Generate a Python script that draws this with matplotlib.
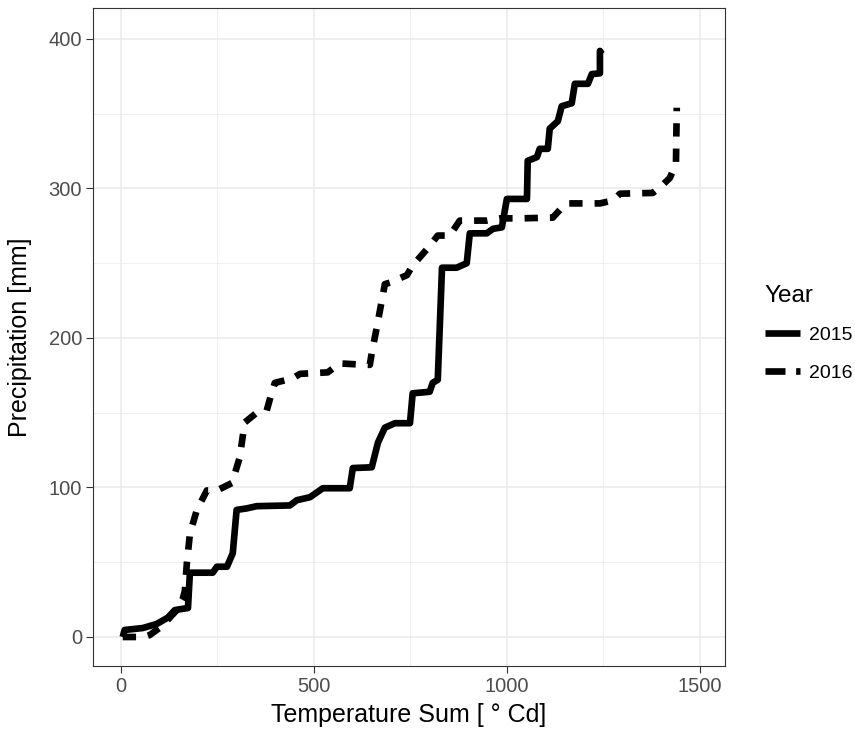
import matplotlib
matplotlib.use("Agg")
import matplotlib.pyplot as plt
from matplotlib.lines import Line2D
import numpy as np

plt.rcParams['font.family'] = ['Liberation Sans', 'DejaVu Sans']

# 2015 series
x2015 = [5, 10, 57, 93, 122, 140, 174, 179, 238, 249, 275, 290, 300, 326, 352, 438, 456, 490,
         515, 523, 593, 601, 650, 666, 684, 710, 749, 756, 800, 808, 821, 832, 870, 896, 904,
         948, 964, 987, 1000, 1052, 1054, 1078, 1085, 1106, 1111, 1132, 1142, 1168, 1176,
         1210, 1220, 1241, 1241, 1246]
y2015 = [0, 4.7, 6, 8.7, 13, 18, 19.4, 43, 43, 47, 47, 56, 85, 86, 87.5, 88, 91.5, 93.5,
         98, 99.5, 99.5, 113, 113.5, 130, 140, 143, 143, 163, 164, 170, 172, 247, 247, 250, 270,
         270, 273, 274, 293, 293, 318.5, 321, 326.5, 326.5, 340, 345, 355, 357, 370,
         370, 376.5, 377, 392, 390]

# 2016 series
x2016 = [5, 60, 75, 93, 106, 127, 145, 160, 166, 171, 179, 197, 223, 249, 288, 308, 321, 352,
         378, 391, 399, 446, 464, 536, 567, 601, 645, 650, 663, 684, 697, 741, 756, 795, 821,
         852, 878, 948, 982, 1034, 1119, 1142, 1155, 1241, 1275, 1293, 1378, 1402, 1422,
         1438, 1440]
y2016 = [0, 0, 1.3, 4.7, 7, 13, 18, 25, 31, 49, 69, 85, 98, 98, 103, 120, 143.5, 150,
         151.5, 163.6, 170, 173, 176, 177, 183, 182.5, 182, 190, 207, 236, 237, 242, 248.5, 260, 268.5,
         268.5, 278.5, 278.5, 280, 280, 280.5, 287, 290, 290, 292, 296.5, 297, 302, 307,
         316.5, 354]

years = ['2015', '2016']
x_ticks = [0, 500, 1000, 1500]
y_ticks = [0, 100, 200, 300, 400]

fig = plt.figure(figsize=(8.55, 7.29), dpi=100)
ax = fig.add_axes([93/855, 1-666/729, (725-93)/855, (666-8)/729])

lw = 4.8
dash = (0, (2.0, 1.8))
ax.plot(x2015, y2015, color='black', lw=lw, solid_joinstyle='round', solid_capstyle='butt', zorder=3)
ax.plot(x2016, y2016, color='black', lw=lw, linestyle=dash, dash_capstyle='butt',
        dash_joinstyle='round', zorder=3)

ax.set_xlim(-72, 1565)
ax.set_ylim(-19.4, 420.7)
ax.set_xticks(x_ticks)
ax.set_yticks(y_ticks)
ax.set_xticks([250, 750, 1250], minor=True)
ax.set_yticks([50, 150, 250, 350], minor=True)
ax.grid(which='major', color='#EBEBEB', lw=1.1, zorder=0)
ax.grid(which='minor', color='#EBEBEB', lw=0.55, zorder=0)
ax.set_axisbelow(True)
ax.tick_params(which='major', length=5, width=0.8, color='#333333', labelcolor='#4D4D4D',
               labelsize=14.5, pad=3)
ax.tick_params(which='minor', length=0)
for s in ax.spines.values():
    s.set_color('#333333')
    s.set_linewidth(0.8)

ax.set_xlabel('Temperature Sum [ ° Cd]', fontsize=18, labelpad=5)
ax.set_ylabel('Precipitation [mm]', fontsize=18)
ax.yaxis.set_label_coords(-0.096, 0.5)

handles = [Line2D([], [], color='black', lw=lw, solid_capstyle='butt'),
           Line2D([], [], color='black', lw=lw, linestyle=(0, (3.0, 1.6)), dash_capstyle='butt')]
leg = fig.legend(handles, years, title='Year', loc='upper left',
                 bbox_to_anchor=(757/855, 1-277/729), frameon=False, fontsize=14,
                 title_fontsize=17.5, handlelength=1.8, handletextpad=0.45, labelspacing=1.02,
                 alignment='left', borderaxespad=0)

fig.savefig('out.png', dpi=100)
